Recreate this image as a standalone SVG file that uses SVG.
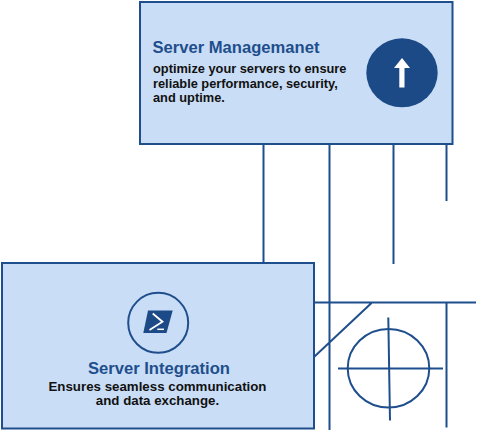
<svg xmlns="http://www.w3.org/2000/svg" width="477" height="431" viewBox="0 0 477 431">
<style>
.box{fill:#c9ddf6;stroke:#1f4e8c;stroke-width:2}
.ln{fill:none;stroke:#1f4e8c;stroke-width:2}
.t{font-family:"Liberation Sans",Arial,sans-serif;font-weight:700;font-size:16.6px;fill:#1f4e8c}
.b{font-family:"Liberation Sans",Arial,sans-serif;font-weight:700;fill:#111}
.b1{font-size:12.8px}
.b2{font-size:13.3px}
</style>
<rect width="477" height="431" fill="#fff"/>
<g id="connectors">
<path class="ln" d="M263.500 144V263M329.500 144V430M393.500 144V264M446.500 144V201M314 302.500H476M446.500 302V427.500M371.500 303L314 357M388.300 317.500L390 420.500M338 368.500H443"/>
<ellipse class="ln" cx="388.500" cy="368.200" rx="40.800" ry="39.300"/>
</g>
<g id="server-management">
<rect class="box" x="140" y="2" width="312.500" height="142"/>
<text class="t" x="152.500" y="53">Server Managemanet</text>
<text class="b b1" x="153" y="72.500">optimize your servers to ensure</text>
<text class="b b1" x="153" y="87.500">reliable performance, security,</text>
<text class="b b1" x="153" y="102">and uptime.</text>
<ellipse cx="402" cy="72.800" rx="35.700" ry="34.500" fill="#1c4a87"/>
<path d="M402 58L410 68H404.500V87.500H399.300V68H394Z" fill="#fff"/>
</g>
<g id="server-integration">
<rect class="box" x="2" y="263" width="312" height="165.500"/>
<circle cx="158.200" cy="322.800" r="30" fill="none" stroke="#1f4e8c" stroke-width="2"/>
<path d="M148 310.500H172.700L166.500 333H143.300Z" fill="#1c4a87"/>
<path d="M152.700 313.500L162.500 321.700L149.500 330" fill="none" stroke="#fff" stroke-width="1.800"/>
<path d="M157.300 329.300H164" fill="none" stroke="#fff" stroke-width="1.500"/>
<text class="t" x="159" y="374" text-anchor="middle">Server Integration</text>
<text class="b b2" x="157.500" y="390.500" text-anchor="middle">Ensures seamless communication</text>
<text class="b b2" x="157.500" y="405" text-anchor="middle">and data exchange.</text>
</g>
</svg>
